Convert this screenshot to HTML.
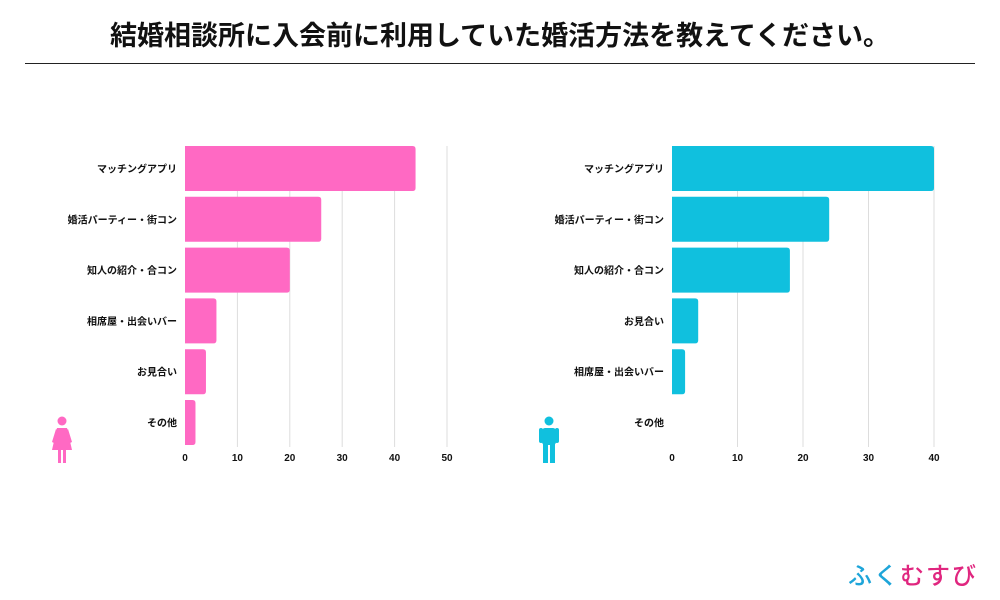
<!DOCTYPE html>
<html><head><meta charset="utf-8"><style>
body{margin:0;width:1000px;height:600px;background:#fff;font-family:"Liberation Sans","Noto Sans CJK JP",sans-serif;overflow:hidden;position:relative}
.title{position:absolute;left:0;top:14px;width:1000px;text-align:center;font-size:27px;font-weight:bold;color:#111}
.rule{position:absolute;left:25px;top:63px;width:950px;height:1px;background:#222}
svg{position:absolute;left:0;top:0}
.logo{position:absolute;left:848px;top:556px;font-size:24px;letter-spacing:2px;font-weight:500}
</style></head><body>
<div class="title">結婚相談所に入会前に利用していた婚活方法を教えてください。</div>
<div class="rule"></div>
<svg id="s" width="1000" height="600"></svg>
<div class="logo"><span style="color:#1ea5d9">ふく</span><span style="color:#e0267f">むすび</span></div>
<script>
const femaleCats=["マッチングアプリ","婚活パーティー・街コン","知人の紹介・合コン","相席屋・出会いバー","お見合い","その他"];
const femaleVals=[44,26,20,6,4,2];
const femaleTicks=[0,10,20,30,40,50];
const maleCats=["マッチングアプリ","婚活パーティー・街コン","知人の紹介・合コン","お見合い","相席屋・出会いバー","その他"];
const maleVals=[40,24,18,4,2,0];
const maleTicks=[0,10,20,30,40];
const NS="http://www.w3.org/2000/svg";
const svg=document.getElementById('s');
function mk(t,a,p){const e=document.createElementNS(NS,t);for(const k in a)e.setAttribute(k,a[k]);(p||svg).appendChild(e);return e;}
function chart(x0,pxPerUnit,cats,vals,ticks,color,name){
  const g=mk('g',{});
  
  
  const xs=v=>x0+v*pxPerUnit;
  const top=146,pitch=50.8,bh=45;
  ticks.forEach(t=>{
    if(t>0){const l=mk('line',{x1:xs(t),x2:xs(t),y1:top,y2:447,stroke:'#ddd','stroke-width':1},g);
    }
    const tx=mk('text',{x:xs(t),y:461,'font-size':10,'text-anchor':'middle',fill:'#111','font-weight':'600'},g);
    tx.textContent=t;
    
  });
  cats.forEach((c,i)=>{
    const y=top+i*pitch;
    const lb=mk('text',{x:x0-8,y:y+bh/2+4,'font-size':10,'text-anchor':'end',fill:'#111','font-weight':'600'},g);
    lb.textContent=c;
    
    const w=vals[i]*pxPerUnit;
    if(w>0){
      const r=Math.min(3,w/2);
      const p=mk('path',{d:`M${x0},${y}H${x0+w-r}Q${x0+w},${y} ${x0+w},${y+r}V${y+bh-r}Q${x0+w},${y+bh} ${x0+w-r},${y+bh}H${x0}Z`,fill:color},g);
      
    }
  });
}
chart(185,5.24,femaleCats,femaleVals,femaleTicks,'#ff69c3','female-chart');
chart(672,6.55,maleCats,maleVals,maleTicks,'#10c0de','male-chart');
function person(cx,color,female,name){
  const g=mk('g',{fill:color});
  
  mk('circle',{cx:cx,cy:421,r:4.5},g);
  if(female){
    mk('path',{d:`M${cx-5},428 H${cx+5} L${cx+10},450 H${cx-10} Z`},g);
    mk('path',{d:`M${cx-6},429 L${cx-10},442 L${cx-8},443 L${cx-4},431 Z M${cx+6},429 L${cx+10},442 L${cx+8},443 L${cx+4},431Z`},g);
    mk('rect',{x:cx-4,y:449,width:3,height:14},g);
    mk('rect',{x:cx+1,y:449,width:3,height:14},g);
  }else{
    mk('rect',{x:cx-7,y:428,width:14,height:17,rx:3},g);
    mk('rect',{x:cx-10,y:428,width:4,height:15,rx:2},g);
    mk('rect',{x:cx+6,y:428,width:4,height:15,rx:2},g);
    mk('rect',{x:cx-6,y:444,width:5,height:19},g);
    mk('rect',{x:cx+1,y:444,width:5,height:19},g);
  }
}
person(62,'#ff69c3',true,'female-icon');
person(549,'#10c0de',false,'male-icon');
</script>
</body></html>
